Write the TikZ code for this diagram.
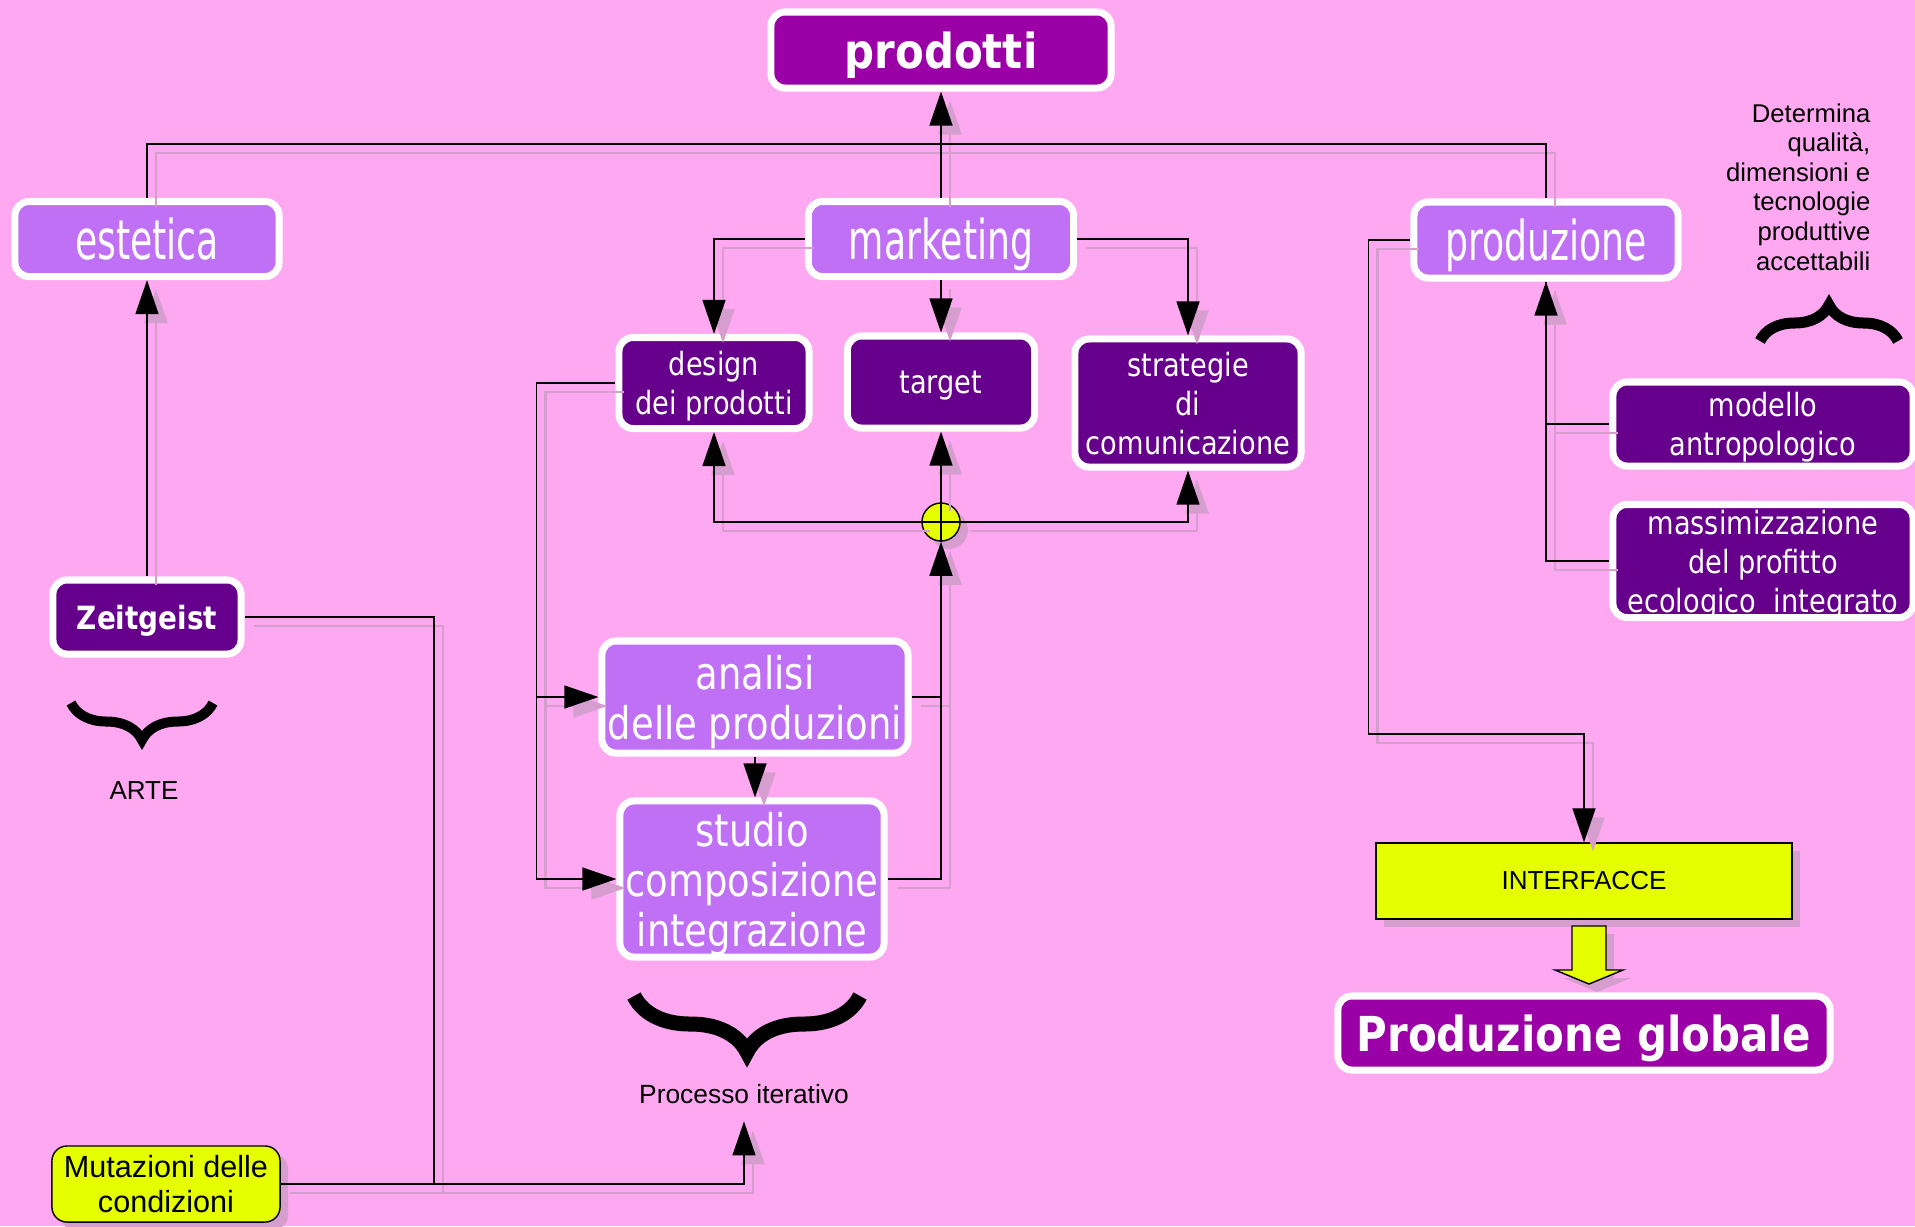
\documentclass[tikz,border=0pt]{standalone}
\usepackage{fontspec}
\setmainfont{Liberation Sans}
\newfontfamily\bigfont[FakeStretch=0.66]{DejaVu Sans}
\newfontfamily\midfont[FakeStretch=0.82]{DejaVu Sans}
\newfontfamily\smallfont[FakeStretch=0.85]{DejaVu Sans}
\newfontfamily\headfont[FakeStretch=0.87]{DejaVu Sans}
\usetikzlibrary{arrows.meta, shadows, decorations.pathreplacing}

\definecolor{bgpink}{RGB}{255,168,242}
\definecolor{lilac}{RGB}{192,112,245}
\definecolor{plum}{RGB}{102,0,140}
\definecolor{magentabox}{RGB}{154,0,166}
\definecolor{lemon}{RGB}{230,255,0}
\definecolor{shadowpink}{RGB}{214,158,206}

\tikzset{
  card/.style={draw=white, line width=2pt, rounded corners=0.14cm, text=white, inner sep=0pt, text depth=0pt, align=center},
  lightcard/.style={card, fill=lilac},
  darkcard/.style={card, fill=plum},
  headcard/.style={card, fill=magentabox},
  shadowed/.style={drop shadow={shadow xshift=0.08cm, shadow yshift=-0.08cm, fill=shadowpink, opacity=1}},
  note/.style={fill=lemon, draw=black, line width=0.4pt, inner sep=0pt, align=center, shadowed},
  pointer/.style={-{Triangle[length=0.34cm, width=0.23cm]}},
  bigbrace/.style={decorate, decoration={brace, amplitude=#1}},
  bigtext/.style={font=\bigfont\fontsize{15.6}{18}\selectfont},
  midtext/.style={font=\midfont\fontsize{12.8}{14.2}\selectfont},
  smalltext/.style={font=\smallfont\fontsize{9.1}{11.1}\selectfont},
}

\begin{document}
\begin{tikzpicture}[x=0.01cm, y=-0.01cm]
\fill[bgpink] (0,0) rectangle (1915,1226);
\useasboundingbox (0,0) rectangle (1915,1226);

\node[headcard, minimum width=3.4cm, minimum height=0.76cm, font=\headfont\bfseries\fontsize{13.7}{16}\selectfont] (prodotti) at (941,50) {prodotti};
\node[lightcard, bigtext, minimum width=2.64cm, minimum height=0.75cm] (estetica) at (147,239) {estetica};
\node[lightcard, bigtext, minimum width=2.65cm, minimum height=0.75cm] (marketing) at (941,239) {marketing};
\node[lightcard, bigtext, minimum width=2.64cm, minimum height=0.76cm] (produzione) at (1546,240) {produzione};
\node[darkcard, smalltext, minimum width=1.9cm, minimum height=0.91cm] (design) at (714,383) {design\\dei prodotti};
\node[darkcard, smalltext, minimum width=1.87cm, minimum height=0.92cm] (target) at (941,382) {target};
\node[darkcard, smalltext, minimum width=2.26cm, minimum height=1.28cm] (strategie) at (1188,403) {strategie\\di\\comunicazione};
\node[darkcard, smalltext, minimum width=3cm, minimum height=0.84cm] (modello) at (1763,424) {modello\\antropologico};
\node[darkcard, smalltext, minimum width=3cm, minimum height=1.13cm] (profitto) at (1763,561) {massimizzazione\\del profitto\\ecologico~ integrato};
\node[darkcard, minimum width=1.88cm, minimum height=0.74cm, font=\headfont\bfseries\fontsize{9.1}{11}\selectfont] (zeitgeist) at (147,617) {Zeitgeist};
\node[lightcard, midtext, minimum width=3.06cm, minimum height=1.12cm] (analisi) at (755,697) {analisi\\delle produzioni};
\node[lightcard, midtext, minimum width=2.64cm, minimum height=1.56cm] (studio) at (752,879) {studio\\composizione\\integrazione};
\node[headcard, minimum width=4.92cm, minimum height=0.74cm, font=\headfont\bfseries\fontsize{13.7}{16}\selectfont] (globale) at (1584,1033) {Produzione globale};
\node[note, minimum width=4.16cm, minimum height=0.76cm, font=\fontsize{7.4}{9}\selectfont] (interfacce) at (1584,881) {INTERFACCE};
\node[note, rounded corners=0.15cm, minimum width=2.28cm, minimum height=0.76cm, font=\fontsize{8.7}{10}\selectfont] (mutazioni) at (166,1184) {Mutazioni delle\\condizioni};
\node[note, circle, minimum size=0.38cm] (junction) at (941,522) {};

\node[anchor=north east, align=right, inner sep=0pt, font=\fontsize{7.3}{8.4}\selectfont] (determina) at (1871,103) {Determina\\qualità,\\dimensioni e\\tecnologie\\produttive\\accettabili};
\node[font=\fontsize{7.4}{9}\selectfont] (arte) at (144,791) {ARTE};
\node[inner sep=0.17cm, font=\fontsize{7.5}{9}\selectfont] (processo) at (744,1094) {Processo iterativo};

\draw[bigbrace=0.37cm, line width=0.1cm] (213,703) -- (71,703);
\draw[bigbrace=0.56cm, line width=0.15cm] (860,996) -- (634,996);
\draw[bigbrace=0.36cm, line width=0.11cm] (1760,341) -- (1898,341);

\filldraw[fill=lemon, draw=black, line width=0.4pt, shadowed] (1572,926) -- (1606,926) -- (1606,970) -- (1623,970) -- (1589,984) -- (1555,970) -- (1572,970) -- cycle;

\coordinate (bus) at (941,144);
\coordinate (elbow) at (1584,734);
\coordinate (bend) at (434,1184);
\foreach \lc/\dx/\lw in {shadowpink/9/0.8pt, black/0/0.4pt}{
  \begin{scope}[link/.style={draw=\lc, line width=\lw}, transform canvas={shift={({\dx*0.01cm},{-\dx*0.01cm})}}]
    \draw[link] (estetica.north) |- (bus) -| (produzione.north);
    \draw[link, pointer] (marketing.north) -- (prodotti.south);
    \draw[link, pointer] (marketing.west) -| (design.north);
    \draw[link, pointer] (marketing.south) -- (target.north);
    \draw[link, pointer] (marketing.east) -| (strategie.north);
    \draw[link, pointer] (junction.west) -| (design.south);
    \draw[link, pointer] (junction.north) -- (target.south);
    \draw[link, pointer] (junction.east) -| (strategie.south);
    \draw[link, pointer] (analisi.east) -| (junction.south);
    \draw[link] (studio.east) -| (analisi.east -| junction.south);
    \draw[link, pointer] (design.west) -- ++(-79,0) |- (analisi.west);
    \draw[link, pointer] (design.west) -- ++(-79,0) |- (studio.west);
    \draw[link, pointer] (analisi.south) -- (analisi.south |- studio.north);
    \draw[link, pointer] (zeitgeist.north) -- (estetica.south);
    \draw[link] (zeitgeist.east) -| (bend);
    \draw[link, pointer] (mutazioni.east) -| (processo.south);
    \draw[link, pointer] (produzione.west) -- ++(-42,0) |- (elbow) -- (interfacce.north);
    \draw[link, pointer] (modello.west) -| (produzione.south);
    \draw[link] (profitto.west) -| (produzione.south);
  \end{scope}
}
\draw[line width=0.4pt] (junction.west) -- (junction.east) (junction.north) -- (junction.south);
\end{tikzpicture}
\end{document}
